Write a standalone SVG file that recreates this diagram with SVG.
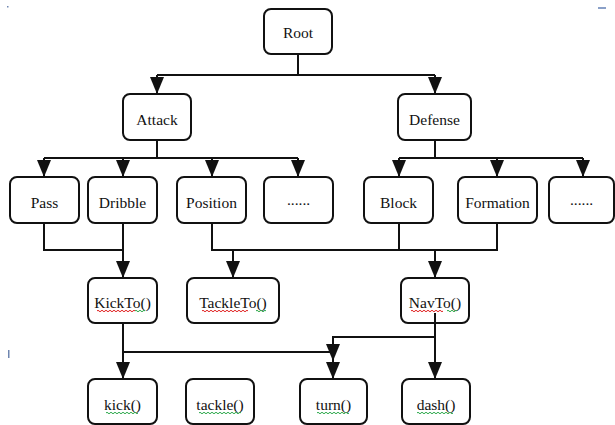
<svg xmlns="http://www.w3.org/2000/svg" width="615" height="425" viewBox="0 0 615 425">
  <style>
    .box { fill: #fff; stroke: #111; stroke-width: 2; }
    .lbl { font-family: "Liberation Serif", "Times New Roman", serif; font-size: 15.5px; fill: #111; text-anchor: middle; }
    .edge { fill: none; stroke: #111; stroke-width: 2; }
    .sq-red { fill: none; stroke: #e02020; stroke-width: 1; }
    .sq-green { fill: none; stroke: #2aa84a; stroke-width: 1; }
  </style>
  <defs>
    <marker id="arrow" markerUnits="userSpaceOnUse" markerWidth="14" markerHeight="17" viewBox="0 0 14 17" refX="7" refY="17" orient="0">
      <path d="M0,0 L14,0 L7,17 Z" fill="#111"/>
    </marker>
  </defs>

  <!-- stray editor marks -->
  <rect x="7" y="6" width="1.5" height="1.5" fill="#6f86b0"/>
  <rect x="598" y="7" width="8" height="2" fill="#8aa0c8"/>
  <rect x="8" y="350" width="1.5" height="8" fill="#6f86b0"/>

  <g id="connectors">
    <!-- Root to level 1 -->
    <path class="edge" d="M298,54 V75 M157,75 H435"/>
    <path class="edge" d="M157,75 V94" marker-end="url(#arrow)"/>
    <path class="edge" d="M435,75 V94" marker-end="url(#arrow)"/>
    <!-- Attack children -->
    <path class="edge" d="M157,140 V158 M44,158 H298"/>
    <path class="edge" d="M44,158 V177" marker-end="url(#arrow)"/>
    <path class="edge" d="M123,158 V177" marker-end="url(#arrow)"/>
    <path class="edge" d="M212,158 V177" marker-end="url(#arrow)"/>
    <path class="edge" d="M298,158 V177" marker-end="url(#arrow)"/>
    <!-- Defense children -->
    <path class="edge" d="M435,140 V158 M399,158 H583"/>
    <path class="edge" d="M399,158 V177" marker-end="url(#arrow)"/>
    <path class="edge" d="M497,158 V177" marker-end="url(#arrow)"/>
    <path class="edge" d="M583,158 V177" marker-end="url(#arrow)"/>
    <!-- Pass / Dribble to KickTo() -->
    <path class="edge" d="M44,223 V250 H123"/>
    <path class="edge" d="M123,223 V278" marker-end="url(#arrow)"/>
    <!-- Position / Block / Formation to TackleTo() and NavTo() -->
    <path class="edge" d="M212,223 V250 H497 V223 M399,223 V250"/>
    <path class="edge" d="M233,250 V278" marker-end="url(#arrow)"/>
    <path class="edge" d="M435,250 V278" marker-end="url(#arrow)"/>
    <!-- KickTo() to kick() and turn() -->
    <path class="edge" d="M123,323 V379" marker-end="url(#arrow)"/>
    <path class="edge" d="M123,352 H333"/>
    <path class="edge" d="M333,352 V379" marker-end="url(#arrow)"/>
    <!-- NavTo() to turn() and dash() -->
    <path class="edge" d="M435,337 H333 V361" marker-end="url(#arrow)"/>
  </g>

  <g id="root"><rect class="box" x="264" y="9" width="68" height="45" rx="7"/><text class="lbl" x="298" y="38">Root</text></g>
  <g id="attack"><rect class="box" x="123" y="94" width="68" height="46" rx="7"/><text class="lbl" x="157" y="125">Attack</text></g>
  <g id="defense"><rect class="box" x="398" y="94" width="73" height="46" rx="7"/><text class="lbl" x="434.5" y="125">Defense</text></g>

  <g id="pass"><rect class="box" x="10" y="177" width="69" height="46" rx="7"/><text class="lbl" x="44.5" y="208">Pass</text></g>
  <g id="dribble"><rect class="box" x="88" y="177" width="69" height="46" rx="7"/><text class="lbl" x="122.5" y="208">Dribble</text></g>
  <g id="position"><rect class="box" x="177" y="177" width="69" height="46" rx="7"/><text class="lbl" x="211.5" y="208">Position</text></g>
  <g id="attack-more"><rect class="box" x="264" y="177" width="69" height="46" rx="7"/><text class="lbl" x="298.5" y="205">......</text></g>
  <g id="block"><rect class="box" x="364" y="177" width="69" height="46" rx="7"/><text class="lbl" x="398.5" y="208">Block</text></g>
  <g id="formation"><rect class="box" x="458" y="177" width="79" height="46" rx="7"/><text class="lbl" x="497.5" y="208">Formation</text></g>
  <g id="defense-more"><rect class="box" x="549" y="177" width="65" height="46" rx="7"/><text class="lbl" x="581.5" y="205">......</text></g>

  <g id="kickto">
    <rect class="box" x="88" y="278" width="69" height="45" rx="7"/>
    <text class="lbl" x="122.5" y="308">KickTo()</text>
    <path class="sq-red" d="M97,311 q1,-1.5 2,0 t2,0 t2,0 t2,0 t2,0 t2,0 t2,0 t2,0 t2,0 t2,0 t2,0 t2,0 t2,0 t2,0 t2,0 t2,0 t2,0 t2,0 t2,0"/>
    <path class="sq-green" d="M135,311 q1,-1.5 2,0 t2,0 t2,0 t2,0 t2,0"/>
  </g>
  <g id="tackleto">
    <rect class="box" x="187" y="278" width="92" height="45" rx="7"/>
    <text class="lbl" x="233" y="308">TackleTo()</text>
    <path class="sq-red" d="M202,311 q1,-1.5 2,0 t2,0 t2,0 t2,0 t2,0 t2,0 t2,0 t2,0 t2,0 t2,0 t2,0 t2,0 t2,0 t2,0 t2,0 t2,0 t2,0 t2,0 t2,0 t2,0 t2,0 t2,0 t2,0"/>
    <path class="sq-green" d="M256,311 q1,-1.5 2,0 t2,0 t2,0 t2,0 t2,0"/>
  </g>
  <g id="navto">
    <rect class="box" x="401" y="278" width="68" height="45" rx="7"/>
    <text class="lbl" x="435" y="308">NavTo()</text>
    <path class="sq-red" d="M411,311 q1,-1.5 2,0 t2,0 t2,0 t2,0 t2,0 t2,0 t2,0 t2,0 t2,0 t2,0 t2,0 t2,0 t2,0 t2,0 t2,0 t2,0"/>
    <path class="sq-green" d="M447,311 q1,-1.5 2,0 t2,0 t2,0 t2,0 t2,0"/>
  </g>
  <!-- NavTo() output line starts inside its box -->
  <path class="edge" d="M435,313 V379" marker-end="url(#arrow)"/>

  <g id="kick">
    <rect class="box" x="88" y="379" width="69" height="45" rx="7"/>
    <text class="lbl" x="122.5" y="410">kick()</text>
    <path class="sq-green" d="M106,413 q1,-1.5 2,0 t2,0 t2,0 t2,0 t2,0 t2,0 t2,0 t2,0 t2,0 t2,0 t2,0 t2,0 t2,0 t2,0 t2,0 t2,0"/>
  </g>
  <g id="tackle">
    <rect class="box" x="186" y="379" width="68" height="45" rx="7"/>
    <text class="lbl" x="220" y="410">tackle()</text>
    <path class="sq-green" d="M199,413 q1,-1.5 2,0 t2,0 t2,0 t2,0 t2,0 t2,0 t2,0 t2,0 t2,0 t2,0 t2,0 t2,0 t2,0 t2,0 t2,0 t2,0 t2,0 t2,0 t2,0 t2,0 t2,0"/>
  </g>
  <g id="turn">
    <rect class="box" x="300" y="379" width="67" height="45" rx="7"/>
    <text class="lbl" x="333.5" y="410">turn()</text>
    <path class="sq-green" d="M317,413 q1,-1.5 2,0 t2,0 t2,0 t2,0 t2,0 t2,0 t2,0 t2,0 t2,0 t2,0 t2,0 t2,0 t2,0 t2,0 t2,0 t2,0"/>
  </g>
  <g id="dash">
    <rect class="box" x="402" y="379" width="68" height="45" rx="7"/>
    <text class="lbl" x="436" y="410">dash()</text>
    <path class="sq-green" d="M417,413 q1,-1.5 2,0 t2,0 t2,0 t2,0 t2,0 t2,0 t2,0 t2,0 t2,0 t2,0 t2,0 t2,0 t2,0 t2,0 t2,0 t2,0 t2,0 t2,0"/>
  </g>
</svg>
